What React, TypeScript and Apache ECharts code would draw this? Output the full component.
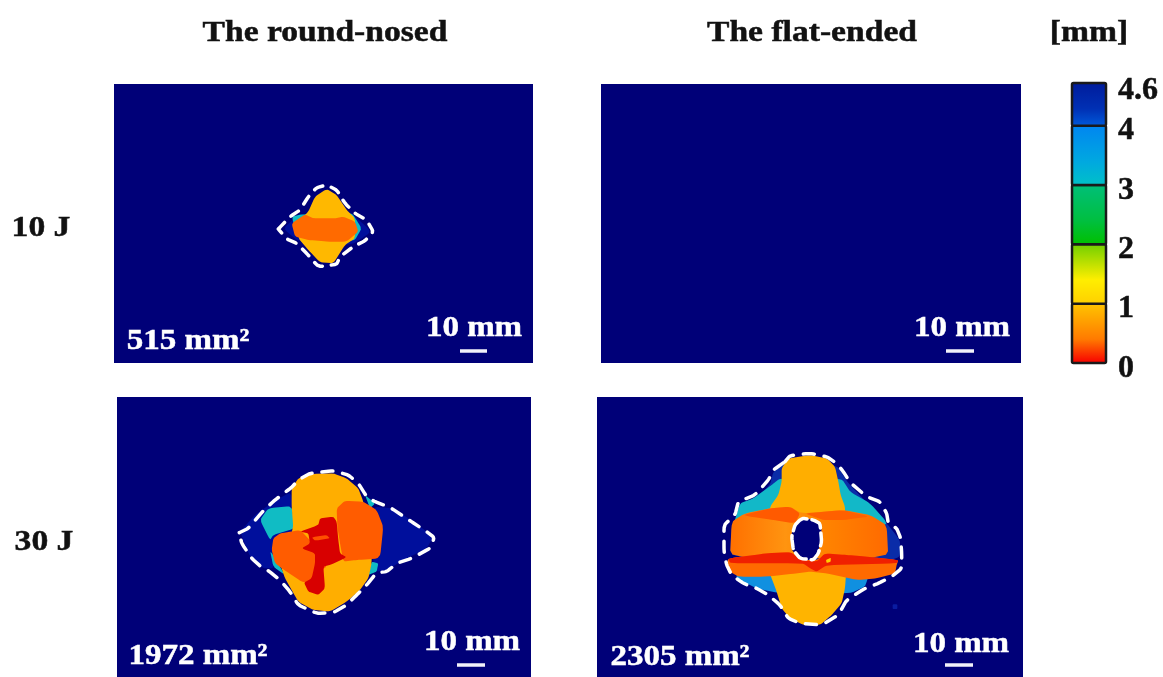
import React, { useEffect, useRef } from "react";
import * as echarts from "echarts";

type Pt = [number, number];

// Tick labels and texts
const colorbarTicks = [0, 1, 2, 3, 4, 4.6];
const bandLow = [0, 1, 2, 3, 4];
const bandHigh = [1, 2, 3, 4, 4.72];
const bandTop = ["#ffc400", "#72d000", "#00bf78", "#0086f0", "#001c9c"];
const bandMid = ["#ff7a00", "#ffee00", "#00bf40", "#00a8e0", "#0030b4"];
const bandBottom = ["#f80000", "#ffd000", "#00c000", "#00c0c8", "#0058d8"];
const columnTitles = ["The round-nosed", "The flat-ended", "[mm]"];
const rowTitles = ["10 J", "30 J"];
const areaLabels = ["515 mm²", "1972 mm²", "2305 mm²"];
const scaleLabel = "10 mm";

// Panel A (10 J, round-nosed): digitised outlines, in tracing units
const a_outline: Pt[] = [[40,162],[75,125],[105,105],[130,65],[155,38],[185,30],[215,45],[240,85],[270,115],[305,135],[325,170],[300,197],[265,215],[225,245],[215,268],[160,275],[125,235],[95,205],[65,192],[40,162]];
const a_blue: Pt[] = [[55,160],[100,120],[260,115],[320,170],[260,210],[100,200]];
const a_cyan: Pt[] = [[80,125],[110,118],[260,112],[290,160],[270,195],[240,200],[100,190]];
const a_yellow: Pt[] = [[130,110],[150,65],[185,42],[215,60],[245,105],[270,130],[270,190],[240,210],[205,265],[165,262],[130,225],[100,190],[100,140]];
const a_orange: Pt[] = [[80,145],[120,118],[145,130],[210,130],[235,125],[270,140],[280,170],[245,200],[190,200],[130,195],[90,185]];
const a_bar: Pt[] = [[585,528],[666,528]];

// Panel B (10 J, flat-ended) has only the scale bar
const b_bar: Pt[] = [[345,267],[373,267]];

// Panel C (30 J, round-nosed)
const c_outline: Pt[] = [[28,248],[55,235],[100,182],[135,150],[185,112],[205,90],[240,70],[310,62],[355,75],[385,100],[410,140],[435,155],[480,172],[540,212],[590,245],[612,262],[605,292],[545,325],[500,340],[470,365],[440,368],[410,405],[380,435],[350,465],[310,488],[260,490],[205,465],[180,425],[150,390],[115,362],[95,352],[65,325],[35,280],[28,248]];
const c_blueL: Pt[] = [[30,245],[75,195],[130,155],[185,125],[190,240],[130,355],[100,355],[60,320]];
const c_blueR: Pt[] = [[430,170],[490,175],[550,215],[610,260],[590,295],[530,325],[470,360],[440,365],[420,300]];
const c_cyan: Pt[] = [[90,210],[115,175],[185,168],[195,235],[130,255],[120,270]];
const c_cyan2: Pt[] = [[120,300],[165,375],[130,350]];
const c_cyan3: Pt[] = [[405,135],[435,160],[420,175]];
const c_cyan4: Pt[] = [[425,335],[445,340],[440,365],[415,375]];
const c_amber: Pt[] = [[185,115],[205,85],[245,72],[310,70],[350,85],[385,115],[400,155],[425,250],[425,340],[415,385],[390,420],[350,455],[300,485],[250,480],[205,455],[185,420],[165,385],[150,340],[190,235],[185,170]];
const c_orangeR: Pt[] = [[320,175],[345,152],[400,155],[440,180],[460,230],[450,325],[380,330],[340,335],[330,280],[322,230]];
const c_orangeL: Pt[] = [[130,265],[150,250],[210,240],[240,270],[270,310],[290,350],[275,360],[245,400],[215,395],[170,365],[135,340],[125,300]];
const c_red: Pt[] = [[210,245],[265,225],[270,205],[310,200],[320,215],[325,270],[330,310],[350,322],[300,345],[280,350],[285,415],[265,435],[235,425],[222,398],[245,385],[255,340],[255,310],[215,295],[240,280],[235,250]];
const c_spot: Pt[] = [[245,262],[290,255],[300,265],[255,272]];
const c_bar: Pt[] = [[681,645],[765,645]];

// Panel D (30 J, flat-ended)
const d_outline: Pt[] = [[225,50],[240,32],[300,25],[350,35],[380,55],[400,80],[420,112],[470,155],[510,170],[530,205],[535,235],[560,250],[572,280],[575,325],[575,370],[545,395],[505,415],[465,430],[410,465],[385,510],[335,540],[270,535],[235,520],[210,480],[175,450],[140,430],[100,415],[65,390],[50,360],[42,320],[42,240],[75,210],[85,170],[135,150],[175,105],[190,75],[225,50]];
const d_blue: Pt[] = [[190,80],[225,55],[380,60],[415,115],[530,235],[570,285],[570,335],[530,350],[60,340],[65,235],[180,120]];
const d_cyan: Pt[] = [[70,240],[90,175],[130,160],[185,120],[210,100],[395,100],[420,140],[480,175],[525,225],[530,240]];
const d_lowBlue: Pt[] = [[80,380],[80,400],[140,430],[210,445],[420,445],[465,425],[480,380]];
const d_amberTop: Pt[] = [[215,70],[235,40],[300,30],[350,40],[375,65],[385,110],[392,150],[405,185],[405,230],[180,230],[180,185],[205,150],[215,110]];
const d_amberLow: Pt[] = [[170,360],[410,360],[405,430],[395,475],[365,510],[330,540],[280,540],[240,520],[215,490],[200,440]];
const d_band: Pt[] = [[65,230],[105,205],[180,190],[240,185],[275,205],[400,195],[480,210],[530,240],[535,340],[60,340]];
const d_bandTopL: Pt[] = [[100,210],[180,190],[240,185],[270,205],[255,235],[190,225],[120,215]];
const d_bandTopR: Pt[] = [[285,205],[400,195],[480,215],[400,225],[340,225],[310,215]];
const d_lower: Pt[] = [[55,340],[170,325],[240,320],[270,345],[320,345],[350,325],[420,330],[565,345],[560,360],[555,385],[500,400],[440,405],[350,385],[300,380],[260,385],[170,395],[85,395],[60,380],[50,360]];
const d_stripe: Pt[] = [[55,340],[170,325],[245,322],[270,345],[320,350],[345,325],[410,330],[470,335],[565,345],[560,355],[350,360],[320,380],[300,370],[280,355],[60,355]];
const d_hole: Pt[] = [[265,230],[280,218],[330,230],[335,260],[325,325],[300,345],[270,340],[245,315],[245,260]];
const d_holeEdge: Pt[] = [[270,225],[255,240],[245,275],[250,315],[270,340],[310,345],[325,325],[335,290],[330,235],[310,225],[280,220],[270,225]];
const d_speck: Pt[] = [[548,478],[562,478],[562,492],[548,492]];
const d_glint: Pt[] = [[348,345],[362,338],[362,350],[350,354]];
const d_bar: Pt[] = [[705,660],[789,660]];

const NAVY = "#000078";
const BLUE = "#000f9c";
const CYAN = "#10bcc4";
const AMBER = "#ffae00";
const FONT = '"Liberation Serif", "Times New Roman", serif';

// Softens the corners of an outline on screen, without pulling it inwards much.
function rounded(points: number[][], closed: boolean): number[][] {
  let cur = points;
  for (let k = 0; k < 2; k++) {
    const next: number[][] = [];
    const n = cur.length;
    if (!closed) next.push(cur[0]);
    for (let i = 0; i < (closed ? n : n - 1); i++) {
      const p = cur[i];
      const q = cur[(i + 1) % n];
      next.push([p[0] * 0.88 + q[0] * 0.12, p[1] * 0.88 + q[1] * 0.12]);
      next.push([p[0] * 0.12 + q[0] * 0.88, p[1] * 0.12 + q[1] * 0.88]);
    }
    if (!closed) next.push(cur[n - 1]);
    cur = next;
  }
  return cur;
}

function region(panel: number, pts: Pt[], fill: any) {
  return {
    type: "custom",
    coordinateSystem: "cartesian2d",
    xAxisIndex: panel,
    yAxisIndex: panel,
    data: pts,
    encode: { x: 0, y: 1 },
    silent: true,
    renderItem: (params: any, api: any) => {
      if (params.dataIndex !== 0) return null;
      return {
        type: "polygon",
        shape: { points: rounded(pts.map((p) => api.coord(p)), true) },
        style: { fill },
      };
    },
  };
}

function dashed(panel: number, pts: Pt[], dash: number[], z = 5) {
  return {
    type: "custom",
    coordinateSystem: "cartesian2d",
    xAxisIndex: panel,
    yAxisIndex: panel,
    data: pts,
    encode: { x: 0, y: 1 },
    silent: true,
    z,
    renderItem: (params: any, api: any) => {
      if (params.dataIndex !== 0) return null;
      return {
        type: "polyline",
        shape: { points: rounded(pts.map((p) => api.coord(p)), false) },
        style: { fill: "none", stroke: "#ffffff", lineWidth: 3.5, lineDash: dash, lineCap: "round" },
      };
    },
  };
}

function scaleBar(panel: number, pts: Pt[]) {
  return {
    type: "line",
    xAxisIndex: panel,
    yAxisIndex: panel,
    data: pts,
    showSymbol: false,
    symbol: "none",
    silent: true,
    lineStyle: { color: "#f2f2fa", width: 3.5 },
  };
}

function panelText(text: string, x: number, y: number, scaleX: number, fill = "#ffffff", size = 30) {
  return {
    type: "text",
    x,
    y,
    scaleX,
    z: 100,
    style: {
      text,
      font: `bold ${size}px ${FONT}`,
      fill,
      stroke: fill,
      lineWidth: 0.5,
      align: "center",
      verticalAlign: "middle",
      textAlign: "center",
      textVerticalAlign: "middle",
    },
  };
}

const tickStyle = {
  color: "#111111",
  fontFamily: FONT,
  fontWeight: "bold",
  fontSize: 32,
  textBorderColor: "#111111",
  textBorderWidth: 0.5,
};

export default function App() {
  const ref = useRef<HTMLDivElement>(null);
  useEffect(() => {
    const chart = echarts.init(ref.current!, undefined, { renderer: "svg" });
    const hidden = (min: number, max: number, inverse = false) => ({
      type: "value",
      min,
      max,
      inverse,
      show: false,
      splitLine: { show: false },
    });
    const orangeGrad = new echarts.graphic.LinearGradient(0, 0, 1, 0, [
      { offset: 0, color: "#ff7000" },
      { offset: 0.35, color: "#ff9410" },
      { offset: 0.5, color: "#ff8a00" },
      { offset: 1, color: "#ff6a00" },
    ]);
    const option: any = {
      animation: false,
      backgroundColor: "#ffffff",
      grid: [
        { left: 114, top: 84, width: 419, height: 279, show: true, backgroundColor: NAVY, borderWidth: 0 },
        { left: 601, top: 84, width: 420, height: 279, show: true, backgroundColor: NAVY, borderWidth: 0 },
        { left: 117, top: 397, width: 414, height: 280, show: true, backgroundColor: NAVY, borderWidth: 0 },
        { left: 597, top: 397, width: 426, height: 280, show: true, backgroundColor: NAVY, borderWidth: 0 },
        { left: 1072, top: 83, width: 34, height: 280 },
      ],
      xAxis: [
        { ...hidden(-453, 804), gridIndex: 0 },
        { ...hidden(0, 420), gridIndex: 1 },
        { ...hidden(-339, 903), gridIndex: 2 },
        { ...hidden(-339, 939), gridIndex: 3 },
        { ...hidden(0, 1), gridIndex: 4 },
      ],
      yAxis: [
        { ...hidden(-273, 564, true), gridIndex: 0 },
        { ...hidden(0, 279, true), gridIndex: 1 },
        { ...hidden(-159, 681, true), gridIndex: 2 },
        { ...hidden(-144, 696, true), gridIndex: 3 },
        {
          type: "value",
          gridIndex: 4,
          min: 0,
          max: 4.72,
          position: "right",
          splitLine: { show: false },
          axisLine: { show: false },
          axisTick: { show: false },
          axisLabel: {
            customValues: colorbarTicks,
            formatter: (v: number) => (v === 4.6 ? `{top|${v}}` : `{low|${v}}`),
            margin: 12,
            ...tickStyle,
            rich: {
              top: { ...tickStyle, padding: [0, 0, 4, 0] },
              low: { ...tickStyle, padding: [5, 0, 0, 0] },
            },
          },
        },
      ],
      series: [
        region(0, a_blue, BLUE),
        region(0, a_cyan, CYAN),
        region(0, a_yellow, "#ffb800"),
        region(0, a_orange, "#ff6a00"),
        dashed(0, a_outline, [9, 9]),
        scaleBar(0, a_bar),
        scaleBar(1, b_bar),
        region(2, c_blueL, BLUE),
        region(2, c_blueR, BLUE),
        region(2, c_cyan, CYAN),
        region(2, c_cyan2, CYAN),
        region(2, c_cyan3, CYAN),
        region(2, c_cyan4, CYAN),
        region(2, c_amber, AMBER),
        region(2, c_orangeR, "#ff5c00"),
        region(2, c_orangeL, "#ff5c00"),
        region(2, c_red, "#d80000"),
        region(2, c_spot, "#ff5000"),
        dashed(2, c_outline, [11, 10]),
        scaleBar(2, c_bar),
        region(3, d_blue, "#0a2ca8"),
        region(3, d_cyan, "#12b8c8"),
        region(3, d_lowBlue, "#1090e0"),
        region(3, d_amberTop, AMBER),
        region(3, d_amberLow, "#ffb400"),
        region(3, d_band, orangeGrad),
        region(3, d_bandTopL, "#ff5a00"),
        region(3, d_bandTopR, "#ff6000"),
        region(3, d_lower, "#ff6a00"),
        region(3, d_stripe, "#f02000"),
        region(3, d_hole, NAVY),
        region(3, d_speck, "#0a1ca0"),
        region(3, d_glint, "#ffd000"),
        dashed(3, d_holeEdge, [13, 5]),
        dashed(3, d_outline, [11, 10]),
        scaleBar(3, d_bar),
        {
          type: "custom",
          coordinateSystem: "cartesian2d",
          xAxisIndex: 4,
          yAxisIndex: 4,
          silent: true,
          data: bandLow.map((lo, i) => [lo, bandHigh[i], i]),
          encode: { y: [0, 1] },
          renderItem: (params: any, api: any) => {
            const i = params.dataIndex;
            const a = api.coord([0, bandHigh[i]]);
            const b = api.coord([1, bandLow[i]]);
            return {
              type: "rect",
              shape: { x: a[0], y: a[1], width: b[0] - a[0], height: b[1] - a[1], r: 1.5 },
              style: {
                fill: new echarts.graphic.LinearGradient(0, 0, 0, 1, [
                  { offset: 0, color: bandTop[i] },
                  { offset: 0.6, color: bandMid[i] },
                  { offset: 1, color: bandBottom[i] },
                ]),
                stroke: "#1a1a1a",
                lineWidth: 2.5,
              },
            };
          },
        },
      ],
      graphic: [
        panelText(columnTitles[0], 325, 31, 1.12, "#111111"),
        panelText(columnTitles[1], 812, 31, 1.12, "#111111"),
        panelText(columnTitles[2], 1089, 31, 1.12, "#111111"),
        panelText(rowTitles[0], 41, 226, 1.12, "#111111"),
        panelText(rowTitles[1], 44, 540, 1.12, "#111111"),
        panelText(areaLabels[0], 188, 339, 1.1),
        panelText(areaLabels[1], 198, 654, 1.1),
        panelText(areaLabels[2], 680, 655, 1.1),
        panelText(scaleLabel, 474, 326, 1.1),
        panelText(scaleLabel, 962, 326, 1.1),
        panelText(scaleLabel, 472, 640, 1.1),
        panelText(scaleLabel, 961, 642, 1.1),
      ],
    };
    chart.setOption(option);
    return () => chart.dispose();
  }, []);
  return (
    <div
      ref={ref}
      style={{ position: "fixed", left: 0, top: 0, width: 1163, height: 677, filter: "blur(0.7px)" }}
    />
  );
}
